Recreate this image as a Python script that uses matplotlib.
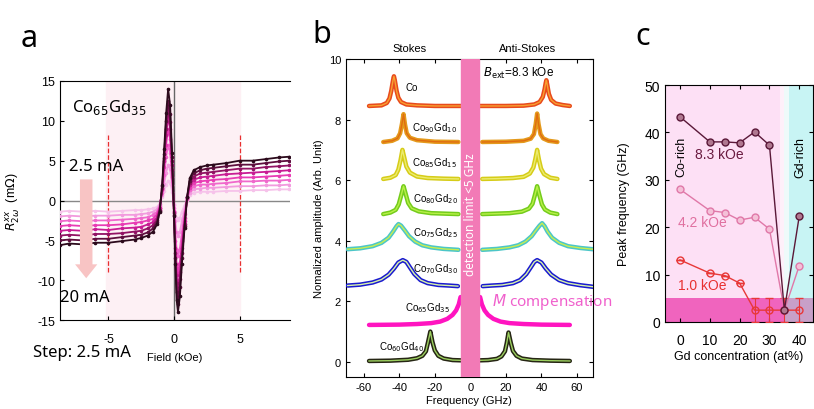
import matplotlib.pyplot as plt

plt.rcParams['font.family'] = ['Liberation Sans', 'DejaVu Sans']
plt.rcParams['axes.unicode_minus'] = False

# ---------------- panel a : R2w vs field, 2.5 .. 20 mA ----------------
field = [-8.7, -8, -7, -6, -5, -4, -3, -2.5, -2, -1.6, -1.3, -1.1, -0.9, -0.75, -0.6, -0.45,
         -0.3, -0.15, 0, 0.1, 0.2, 0.3, 0.45, 0.6, 0.8, 1.0, 1.2, 1.5, 2, 2.5, 3, 4, 5, 6, 7, 8, 8.8]
r_2p5 = [-1.4, -1.3, -1.4, -1.3, -1.4, -1.3, -1.2, -1.2, -1.1, -1.0, -0.8, -0.4, 0.4, 1.2, 2.0, 2.5,
         2.2, 1.1, -0.4, -1.4, -2.2, -2.5, -2.2, -1.4, -0.6, 0.1, 0.7, 1.0, 1.1, 1.1, 1.1, 1.2, 1.2, 1.3, 1.3, 1.4, 1.4]
r_5 = [-2.0, -1.9, -2.0, -1.9, -1.9, -1.8, -1.8, -1.7, -1.6, -1.4, -1.1, -0.5, 0.7, 2.1, 3.5, 4.5,
       3.9, 1.9, -0.6, -2.6, -4.0, -4.5, -3.9, -2.6, -1.1, 0.2, 1.0, 1.4, 1.5, 1.6, 1.6, 1.7, 1.8, 1.8, 1.9, 1.9, 2.0]
r_7p5 = [-2.6, -2.5, -2.6, -2.5, -2.5, -2.4, -2.3, -2.2, -2.1, -1.8, -1.4, -0.7, 1.0, 3.2, 5.5, 7.0,
         6.0, 3.0, -1.0, -4.0, -6.2, -7.0, -6.0, -4.0, -1.7, 0.2, 1.3, 1.8, 2.0, 2.0, 2.1, 2.2, 2.4, 2.4, 2.5, 2.5, 2.6]
r_10 = [-3.2, -3.1, -3.2, -3.1, -3.1, -3.0, -2.8, -2.7, -2.5, -2.3, -1.7, -0.9, 1.3, 4.2, 7.0, 9.0,
        7.7, 3.8, -1.3, -5.1, -8.0, -9.0, -7.7, -5.1, -2.2, 0.3, 1.6, 2.2, 2.4, 2.5, 2.6, 2.7, 2.9, 2.9, 3.0, 3.1, 3.2]
r_12p5 = [-3.8, -3.7, -3.8, -3.6, -3.7, -3.5, -3.4, -3.3, -3.0, -2.7, -2.1, -1.0, 1.5, 4.9, 8.2, 10.5,
          9.0, 4.5, -1.5, -6.0, -9.4, -11.0, -9.0, -6.0, -2.6, 0.3, 1.9, 2.6, 2.9, 3.0, 3.1, 3.3, 3.4, 3.5, 3.6, 3.7, 3.8]
r_15 = [-4.4, -4.3, -4.4, -4.2, -4.2, -4.1, -3.9, -3.8, -3.5, -3.1, -2.4, -1.2, 1.6, 5.3, 9.0, 11.5,
        9.8, 4.9, -1.6, -6.6, -10.3, -12.0, -9.8, -6.6, -2.9, 0.4, 2.2, 3.0, 3.4, 3.5, 3.6, 3.8, 4.0, 4.0, 4.2, 4.3, 4.4]
r_17p5 = [-5.0, -4.9, -5.0, -4.8, -4.8, -4.6, -4.4, -4.3, -4.0, -3.5, -2.7, -1.3, 1.8, 5.9, 10.0, 12.5,
          10.8, 5.4, -1.8, -7.2, -11.5, -13.0, -10.8, -7.2, -3.2, 0.4, 2.5, 3.4, 3.8, 4.0, 4.1, 4.3, 4.5, 4.5, 4.7, 4.9, 5.0]
r_20 = [-5.6, -5.4, -5.5, -5.3, -5.3, -5.1, -4.9, -4.7, -4.4, -3.9, -3.0, -1.5, 2.0, 6.5, 11.0, 14.0,
        12.0, 6.0, -2.0, -8.0, -12.5, -14.0, -12.0, -8.0, -3.5, 0.5, 2.8, 3.8, 4.2, 4.4, 4.5, 4.7, 5.0, 5.0, 5.2, 5.4, 5.5]
curves_a = [r_2p5, r_5, r_7p5, r_10, r_12p5, r_15, r_17p5, r_20]
colors_a = ['#f6c2ea', '#f29ade', '#f068cc', '#e83cb4', '#c81c94', '#921264', '#5e0e3e', '#2c0a1c']

# ---------------- panel b : BLS spectra (freq GHz, amplitude) ----------------
co_l = [(-57, 8.45), (-50, 8.47), (-47, 8.55), (-45.5, 8.7), (-44.5, 8.95), (-43.5, 9.3), (-43, 9.43),
        (-42.5, 9.3), (-41.5, 8.95), (-40.5, 8.72), (-39, 8.58), (-36, 8.5), (-30, 8.47), (-20, 8.45), (-5.5, 8.45)]
co_r = [(5, 8.45), (20, 8.45), (30, 8.46), (36, 8.5), (39, 8.58), (40.8, 8.75), (41.8, 9.0), (42.4, 9.2),
        (42.8, 9.3), (43.3, 9.15), (44.2, 8.85), (45.5, 8.65), (48, 8.53), (52, 8.48), (56, 8.45)]
gd10_l = [(-49, 7.26), (-44, 7.3), (-41, 7.38), (-39.5, 7.55), (-38.5, 7.85), (-37.6, 8.18), (-36.8, 7.85),
          (-35.8, 7.55), (-34, 7.4), (-30, 7.32), (-20, 7.27), (-6.7, 7.26)]
gd10_r = [(6.7, 7.26), (20, 7.27), (30, 7.3), (34, 7.37), (35.8, 7.52), (36.8, 7.85), (37.6, 8.2),
          (38.4, 7.85), (39.5, 7.52), (41, 7.38), (44, 7.3), (49, 7.26)]
gd15_l = [(-49, 6.04), (-45, 6.08), (-42, 6.17), (-40.5, 6.35), (-39.3, 6.65), (-38.2, 7.0), (-37.2, 6.75),
          (-36, 6.45), (-34, 6.25), (-30, 6.12), (-24, 6.07), (-15, 6.05), (-6.7, 6.04)]
gd15_r = [(6.7, 6.04), (15, 6.05), (24, 6.07), (30, 6.11), (33.5, 6.22), (35.5, 6.42), (36.6, 6.7),
          (37.6, 7.0), (38.6, 6.68), (39.8, 6.38), (41.5, 6.2), (45, 6.08), (49, 6.04)]
gd20_l = [(-49, 4.88), (-45, 4.93), (-42, 5.02), (-40.3, 5.2), (-38.9, 5.5), (-37.6, 5.8), (-36.4, 5.55),
          (-35, 5.25), (-33, 5.07), (-29, 4.97), (-22, 4.91), (-12, 4.89), (-6.7, 4.88)]
gd20_r = [(6.7, 4.88), (12, 4.89), (22, 4.91), (29, 4.96), (33, 5.06), (35, 5.22), (36.4, 5.52),
          (37.6, 5.8), (38.9, 5.5), (40.3, 5.2), (42, 5.03), (45, 4.93), (49, 4.88)]
gd25_l = [(-69, 3.72), (-62, 3.75), (-55, 3.82), (-50, 3.93), (-46, 4.1), (-43.5, 4.3), (-41.5, 4.48),
          (-40.4, 4.55), (-39, 4.5), (-37, 4.35), (-34.5, 4.15), (-31, 3.97), (-27, 3.85), (-22, 3.78),
          (-15, 3.73), (-6.7, 3.7)]
gd25_r = [(6.7, 3.7), (15, 3.73), (22, 3.78), (27, 3.85), (31, 3.97), (34.5, 4.15), (37, 4.35), (39, 4.5),
          (40.4, 4.58), (41.8, 4.48), (43.5, 4.3), (46, 4.1), (50, 3.93), (55, 3.82), (62, 3.76), (69, 3.72)]
gd30_l = [(-69, 2.52), (-62, 2.55), (-55, 2.62), (-50, 2.72), (-46, 2.88), (-43, 3.08), (-40.5, 3.28),
          (-38, 3.36), (-36, 3.3), (-34, 3.12), (-31.5, 2.9), (-28, 2.7), (-24, 2.6), (-18, 2.54),
          (-12, 2.52), (-7, 2.5)]
gd30_r = [(7, 2.5), (12, 2.52), (18, 2.54), (24, 2.6), (28, 2.7), (31.5, 2.9), (34, 3.12), (36, 3.3),
          (37.6, 3.36), (40, 3.28), (42.5, 3.08), (45.5, 2.88), (50, 2.7), (55, 2.6), (62, 2.53), (69, 2.48)]
gd35_l = [(-57, 1.22), (-40, 1.23), (-30, 1.25), (-22, 1.28), (-17, 1.33), (-13, 1.42), (-10, 1.55),
          (-8, 1.7), (-6.5, 1.9), (-5.5, 2.14)]
gd35_r = [(5.5, 2.14), (6.5, 1.9), (8, 1.7), (10, 1.55), (13, 1.42), (17, 1.33), (22, 1.28), (30, 1.25),
          (40, 1.23), (56, 1.22)]
gd40_l = [(-57, 0.03), (-45, 0.04), (-35, 0.07), (-30, 0.12), (-27, 0.2), (-25, 0.35), (-23.8, 0.65),
          (-22.5, 1.0), (-21.3, 0.65), (-20, 0.38), (-18, 0.2), (-15, 0.11), (-10, 0.06), (-5, 0.05)]
gd40_r = [(5, 0.05), (10, 0.06), (15, 0.1), (17.5, 0.18), (19.5, 0.35), (20.5, 0.62), (21.5, 0.97),
          (22.8, 0.62), (24, 0.36), (26, 0.2), (29, 0.11), (35, 0.06), (45, 0.04), (56, 0.03)]

spectra = [co_l, co_r, gd10_l, gd10_r, gd15_l, gd15_r, gd20_l, gd20_r,
           gd25_l, gd25_r, gd30_l, gd30_r, gd35_l, gd35_r, gd40_l, gd40_r]
data_cols = ['#e84a1c', '#e49a1c', '#d6cc18', '#74cc1c', '#4cc6c8', '#1a1ad0', '#ff14c0', '#262614']
fit_cols = ['#f8a030', '#e06c10', '#ecec70', '#b8f048', '#c8ee50', '#d8f4a8', None, '#9cd060']
labels_b = ['Co', 'Co$_{90}$Gd$_{10}$', 'Co$_{85}$Gd$_{15}$', 'Co$_{80}$Gd$_{20}$',
            'Co$_{75}$Gd$_{25}$', 'Co$_{70}$Gd$_{30}$', 'Co$_{65}$Gd$_{35}$', 'Co$_{60}$Gd$_{40}$']
label_pos_b = [(-36.5, 9.07), (-33, 7.75), (-33, 6.6), (-32, 5.4), (-32, 4.3), (-32, 3.1), (-37, 1.8), (-51.5, 0.53)]

# ---------------- panel c : peak frequency vs Gd ----------------
gd = [0, 10, 15, 20, 25, 30, 35, 40]
f_8p3 = [43.3, 38.0, 38.0, 37.8, 40.1, 37.3, 2.5, 22.4]
f_4p2 = [28.0, 23.5, 23.1, 21.5, 22.1, 19.6, 2.5, 11.9]
f_1p0 = [13.1, 10.3, 9.8, 8.2, 2.5, 2.5, 2.5, 2.5]
err_1p0 = [0, 0, 0, 0, 2.5, 2.5, 2.5, 2.5]

fig = plt.figure(figsize=(8.14, 4.10), dpi=100)
big = ['Noto Sans', 'DejaVu Sans']

# ===== a =====
ax = fig.add_axes([0.0737, 0.217, 0.2826, 0.583])
ax.axvspan(-5.2, 5, color='#fdf0f4', zorder=0)
ax.axhline(0, color='#888888', lw=1, zorder=1)
ax.axvline(0, color='#666666', lw=1, zorder=1)
for x0 in (-5, 5):
    ax.plot([x0, x0], [-9, 8.2], ls='--', color='#e83030', lw=0.9, zorder=2)
for vals, c in zip(curves_a, colors_a):
    ax.plot(field, vals, color=c, lw=1.3, marker='o', ms=1.6, zorder=3)
ax.annotate('', xy=(-6.7, -10.1), xytext=(-6.7, 3.0),
            arrowprops=dict(arrowstyle='simple,head_width=1.6,head_length=1.0,tail_width=0.9',
                            mutation_scale=10, color='#f8c4c4', lw=0), zorder=4)
ax.set_xlim(-8.7, 8.85)
ax.set_ylim(-15, 15)
ax.set_xticks([-5, 0, 5])
ax.set_yticks([15, 10, 5, 0, -5, -10, -15])
ax.spines['right'].set_visible(False)
ax.tick_params(direction='in', labelsize=9, length=3)
ax.tick_params(axis='x', pad=9)
ax.set_xlabel('Field (kOe)', fontsize=8)
ax.xaxis.set_label_coords(0.5, -0.135)
ax.set_ylabel(r'$R^{xx}_{2\omega}$  (m$\Omega$)', fontsize=9)
ax.yaxis.set_label_coords(-0.165, 0.5)
ax.text(-7.8, 11.2, 'Co$_{65}$Gd$_{35}$', fontsize=12, family=big)
ax.text(-8.0, 3.8, '2.5 mA', fontsize=12, family=big)
ax.text(-8.7, -12.6, '20 mA', fontsize=12, family=big)
fig.text(0.040, 0.138, 'Step: 2.5 mA', fontsize=12, family=big, va='center')
fig.text(0.036, 0.905, 'a', fontsize=22, family=big, ha='center', va='center')

# ===== b =====
bx = fig.add_axes([0.425, 0.078, 0.3034, 0.7756])
for i, pts in enumerate(spectra):
    k = i // 2
    xs, ys = zip(*pts)
    bx.plot(xs, ys, color=data_cols[k], lw=3.2, solid_capstyle='round', zorder=3)
    if fit_cols[k]:
        bx.plot(xs, ys, color=fit_cols[k], lw=1.0, zorder=4)
bx.axvspan(-5, 5, color='#f27ab6', zorder=6)
bx.text(0, 4.9, 'detection limit <5 GHz', rotation=90, color='white', fontsize=8.5,
        ha='center', va='center', family=big, zorder=7)
for lab, (x, y) in zip(labels_b, label_pos_b):
    bx.text(x, y, lab, fontsize=7, va='center', zorder=5)
bx.text(7.3, 9.57, r'$B_{\rm ext}$=8.3 kOe', fontsize=8.5, va='center')
bx.text(12.4, 2.0, '$M$ compensation', fontsize=11, color='#f060cc', va='center', family=big,
        clip_on=False)
bx.set_xlim(-70, 69)
bx.set_ylim(-0.5, 10)
bx.set_xticks([-60, -40, -20, 0, 20, 40, 60])
bx.set_yticks([0, 2, 4, 6, 8, 10])
bx.tick_params(direction='in', labelsize=8, length=3, top=True, right=True)
bx.set_xlabel('Frequency (GHz)', fontsize=8, labelpad=2)
bx.set_ylabel('Nomalized amplitude (Arb. Unit)', fontsize=8)
bx.yaxis.set_label_coords(-0.09, 0.5)
fig.text(0.503, 0.880, 'Stokes', fontsize=8, ha='center', va='center')
fig.text(0.648, 0.880, 'Anti-Stokes', fontsize=8, ha='center', va='center')
fig.text(0.395, 0.915, 'b', fontsize=22, family=big, ha='center', va='center')

# ===== c =====
cx = fig.add_axes([0.817, 0.2122, 0.1818, 0.578])
cx.axvspan(-5, 33.5, color='#fde0f5', zorder=0, lw=0)
cx.axvspan(33.5, 35, color='#fef0fa', zorder=0, lw=0)
cx.axvspan(36.5, 45, color='#c8f4f4', zorder=0, lw=0)
cx.axvspan(35, 36.5, color='#eefafa', zorder=0, lw=0)
cx.fill_between([-5, 35], 0, 5, color='#f064be', zorder=1, lw=0)
cx.fill_between([35, 45], 0, 5, color='#c8a0c8', zorder=1, lw=0)
cx.errorbar(gd, f_1p0, yerr=err_1p0, color='#e83838', lw=1, marker='o', ms=5, mfc='none',
            capsize=3, elinewidth=0.8, zorder=3)
cx.plot(gd, f_4p2, color='#e078a8', lw=1, marker='o', ms=5, mfc='#f4c0d8', zorder=3)
cx.plot(gd, f_8p3, color='#5a1838', lw=1, marker='o', ms=5, mfc='#b07890', zorder=4)
cx.text(0.4, 35, 'Co-rich', rotation=90, fontsize=9, ha='center', va='center')
cx.text(40.3, 35, 'Gd-rich', rotation=90, fontsize=9, ha='center', va='center')
cx.text(5, 35.4, '8.3 kOe', color='#6a1a40', fontsize=10, va='center')
cx.text(-0.6, 21, '4.2 kOe', color='#e070a0', fontsize=10, va='center')
cx.text(-0.6, 7.8, '1.0 kOe', color='#e83030', fontsize=10, va='center')
cx.set_xlim(-5, 44.6)
cx.set_ylim(0, 50)
cx.set_xticks([0, 10, 20, 30, 40])
cx.set_yticks([0, 10, 20, 30, 40, 50])
cx.tick_params(direction='in', labelsize=10, length=3, top=True, right=True)
cx.tick_params(axis='x', pad=8)
cx.set_xlabel('Gd concentration (at%)', fontsize=9, labelpad=2)
cx.set_ylabel('Peak frequency (GHz)', fontsize=9)
cx.yaxis.set_label_coords(-0.236, 0.5)
fig.text(0.79, 0.91, 'c', fontsize=22, family=big, ha='center', va='center')

fig.savefig('out.png', dpi=100)
